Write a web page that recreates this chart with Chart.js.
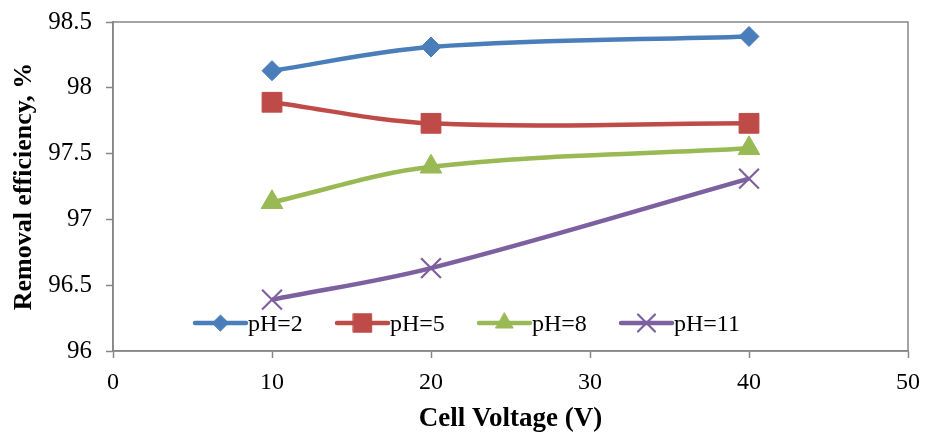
<!DOCTYPE html>
<html>
<head>
<meta charset="utf-8">
<script src="https://cdn.jsdelivr.net/npm/chart.js@4.4.0/dist/chart.umd.min.js"></script>
<style>
    html, body { margin: 0; padding: 0; background: #ffffff; }
    #wrap { width: 925px; height: 433px; }
</style>
</head>
<body>
<div id="wrap"><canvas id="lineChart" width="925" height="433"></canvas></div>
<script>
// x values (cell voltage, V)
const voltages = [10, 20, 40];

// removal efficiency (%) for each pH series
const ph2 = [98.13, 98.31, 98.39];
const ph5 = [97.89, 97.73, 97.73];
const ph8 = [97.13, 97.40, 97.54];
const ph11 = [96.39, 96.63, 97.31];

const seriesNames = ['pH=2', 'pH=5', 'pH=8', 'pH=11'];

// tick labels on both axes
const xTicks = [0, 10, 20, 30, 40, 50];
const yTicks = [96, 96.5, 97, 97.5, 98, 98.5];

const serif = "'Liberation Serif', 'Times New Roman', serif";
const axisGray = '#868686';

// pair x and y lists into points
function toPoints (values) {
    return values.map(function (v, i) {
        return { x: voltages[i], y: v };
    });
}

// style of each series: colour, marker, marker size, marker size in legend
const styles = [
    { color: '#4a7ebb', point: 'rectRot', radius: 10, legendRadius: 8, border: 1 },
    { color: '#be4b48', point: 'rect', radius: 14, legendRadius: 13, border: 1 },
    { color: '#98b954', point: 'triangle', radius: 12.5, legendRadius: 10, border: 1 },
    { color: '#7d60a0', point: 'crossRot', radius: 14, legendRadius: 12, border: 2.2 }
];

const seriesValues = [ph2, ph5, ph8, ph11];

const datasets = seriesValues.map(function (vals, i) {
    const s = styles[i];
    return {
        label: seriesNames[i],
        data: toPoints(vals),
        borderColor: s.color,
        backgroundColor: s.color,
        borderWidth: 4.5,
        tension: 0.35,
        pointStyle: s.point,
        pointRadius: s.radius,
        pointBorderWidth: s.border,
        pointBorderColor: s.color,
        pointBackgroundColor: s.color,
        legendRadius: s.legendRadius
    };
});

// box around the plot area
const plotBox = {
    id: 'plotBox',
    beforeDatasetsDraw (chart) {
        const a = chart.chartArea;
        const ctx = chart.ctx;
        ctx.save();
        ctx.strokeStyle = axisGray;
        ctx.lineWidth = 1.5;
        ctx.strokeRect(a.left, a.top, a.right - a.left, a.bottom - a.top);
        ctx.restore();
    }
};

// legend drawn inside the plot, line + marker + label
const insideLegend = {
    id: 'insideLegend',
    afterDatasetsDraw (chart) {
        const a = chart.chartArea;
        const ctx = chart.ctx;
        const y = a.bottom - 28;
        ctx.save();
        chart.data.datasets.forEach(function (ds, i) {
            const x0 = a.left + 82 + i * 142;
            ctx.strokeStyle = ds.borderColor;
            ctx.lineWidth = 4.5;
            ctx.lineCap = 'round';
            ctx.beginPath();
            ctx.moveTo(x0, y);
            ctx.lineTo(x0 + 51, y);
            ctx.stroke();

            ctx.fillStyle = ds.borderColor;
            ctx.lineWidth = ds.pointBorderWidth;
            if (Chart.helpers && Chart.helpers.drawPoint) {
                Chart.helpers.drawPoint(ctx, {
                    pointStyle: ds.pointStyle,
                    radius: ds.legendRadius,
                    rotation: 0,
                    borderWidth: ds.pointBorderWidth
                }, x0 + 25.5, y);
            }

            ctx.fillStyle = '#000000';
            ctx.font = '24px ' + serif;
            ctx.textBaseline = 'middle';
            ctx.textAlign = 'left';
            ctx.fillText(ds.label, x0 + 53, y + 2);
        });
        ctx.restore();
    }
};

const config = {
    type: 'line',
    data: { datasets: datasets },
    options: {
        responsive: false,
        animation: false,
        devicePixelRatio: 1,
        layout: {
            padding: { left: 8, right: 17, top: 22, bottom: 0 }
        },
        plugins: {
            legend: { display: false },
            tooltip: { enabled: false }
        },
        scales: {
            x: {
                type: 'linear',
                min: 0,
                max: 50,
                afterBuildTicks: function (scale) {
                    scale.ticks = xTicks.map(function (v) { return { value: v }; });
                },
                afterFit: function (scale) {
                    scale.height = 82;
                    scale.paddingLeft = 0;
                    scale.paddingRight = 0;
                },
                grid: {
                    display: true,
                    drawOnChartArea: false,
                    drawTicks: true,
                    tickLength: 7,
                    tickColor: axisGray,
                    tickWidth: 1.5
                },
                border: { display: true, color: axisGray, width: 1.5 },
                ticks: {
                    color: '#000000',
                    padding: 10,
                    maxRotation: 0,
                    font: { family: serif, size: 24 },
                    callback: function (v) { return String(v); }
                },
                title: {
                    display: true,
                    text: 'Cell Voltage (V)',
                    color: '#000000',
                    padding: { top: 0, bottom: 0 },
                    font: { family: serif, size: 27, weight: 'bold', lineHeight: 1 }
                }
            },
            y: {
                type: 'linear',
                min: 96,
                max: 98.5,
                afterBuildTicks: function (scale) {
                    scale.ticks = yTicks.map(function (v) { return { value: v }; });
                },
                afterFit: function (scale) {
                    scale.width = 105;
                    scale.paddingTop = 0;
                    scale.paddingBottom = 0;
                },
                grid: {
                    display: true,
                    drawOnChartArea: false,
                    drawTicks: true,
                    tickLength: 7,
                    tickColor: axisGray,
                    tickWidth: 1.5
                },
                border: { display: true, color: axisGray, width: 1.5 },
                ticks: {
                    color: '#000000',
                    padding: 14,
                    font: { family: serif, size: 25 },
                    callback: function (v) { return String(v); }
                },
                title: {
                    display: true,
                    text: 'Removal efficiency, %',
                    color: '#000000',
                    padding: { top: 1, bottom: 0 },
                    font: { family: serif, size: 26, weight: 'bold', lineHeight: 1.2 }
                }
            }
        }
    },
    plugins: [plotBox, insideLegend]
};

const myChart = new Chart(document.getElementById('lineChart'), config);
</script>
</body>
</html>
